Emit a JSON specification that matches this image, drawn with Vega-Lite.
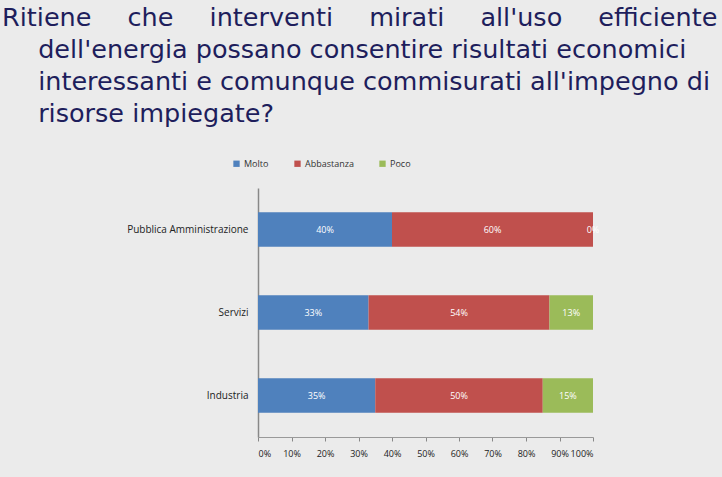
{
  "$schema": "https://vega.github.io/schema/vega-lite/v6.json",
  "width": 335,
  "height": 249,
  "autosize": {"type": "none"},
  "padding": {"left": 258, "top": 188, "right": 129, "bottom": 40},
  "background": "#ebebeb",
  "config": {"view": {"stroke": null}},
  "title": {
    "text": [
      "Ritiene\u2003\u2005\u2006che\u2003\u2005\u2006interventi\u2003\u2005\u2006mirati\u2003\u2005\u2006all'uso\u2003\u2005\u2006efficiente",
      "\u200b\u2003\u2005\u2006dell'energia possano consentire risultati economici",
      "\u200b\u2003\u2005\u2006interessanti e comunque commisurati all'impegno di",
      "\u200b\u2003\u2005\u2006risorse impiegate?"
    ],
    "anchor": "start",
    "frame": "group",
    "dx": -256,
    "font": "DejaVu Sans",
    "fontSize": 25.5,
    "fontWeight": "normal",
    "color": "#1e1e5c",
    "lineHeight": 32,
    "offset": 32
  },
  "data": {
    "values": [
      {"settore": "Pubblica Amministrazione", "risposta": "Molto", "k": 1, "quota": 0.40},
      {"settore": "Pubblica Amministrazione", "risposta": "Abbastanza", "k": 2, "quota": 0.60},
      {"settore": "Pubblica Amministrazione", "risposta": "Poco", "k": 3, "quota": 0.00},
      {"settore": "Servizi", "risposta": "Molto", "k": 1, "quota": 0.33},
      {"settore": "Servizi", "risposta": "Abbastanza", "k": 2, "quota": 0.54},
      {"settore": "Servizi", "risposta": "Poco", "k": 3, "quota": 0.13},
      {"settore": "Industria", "risposta": "Molto", "k": 1, "quota": 0.35},
      {"settore": "Industria", "risposta": "Abbastanza", "k": 2, "quota": 0.50},
      {"settore": "Industria", "risposta": "Poco", "k": 3, "quota": 0.15}
    ]
  },
  "encoding": {
    "y": {
      "field": "settore",
      "type": "nominal",
      "sort": null,
      "scale": {"paddingInner": 0.585, "paddingOuter": 0.2925},
      "axis": {
        "title": null,
        "ticks": false,
        "labelPadding": 10,
        "labelFontSize": 10,
        "labelFont": "Open Sans",
        "labelColor": "#222222",
        "domainColor": "#888888",
        "domainWidth": 1.5,
        "labelLimit": 200
      }
    },
    "x": {
      "field": "quota",
      "type": "quantitative",
      "stack": "zero",
      "scale": {"domain": [0, 1], "nice": false},
      "axis": {
        "title": null,
        "format": ".0%",
        "values": [0, 0.1, 0.2, 0.3, 0.4, 0.5, 0.6, 0.7, 0.8, 0.9, 1],
        "labelOverlap": false,
        "grid": false,
        "tickSize": 4,
        "tickColor": "#888888",
        "domainColor": "#999999",
        "labelPadding": 8,
        "labelFontSize": 9,
        "labelFont": "Open Sans",
        "labelColor": "#222222"
      }
    },
    "order": {"field": "k", "type": "quantitative"}
  },
  "layer": [
    {
      "mark": {"type": "bar"},
      "encoding": {
        "color": {
          "field": "risposta",
          "type": "nominal",
          "sort": ["Molto", "Abbastanza", "Poco"],
          "scale": {"domain": ["Molto", "Abbastanza", "Poco"], "range": ["#4f81bd", "#c0504d", "#9bbb59"]},
          "legend": {
            "title": null,
            "orient": "none",
            "legendX": -26,
            "legendY": -29,
            "direction": "horizontal",
            "symbolType": "square",
            "symbolSize": 40,
            "symbolStrokeWidth": 0,
            "labelFontSize": 9,
            "labelFont": "Open Sans",
            "labelColor": "#333333",
            "labelOffset": 3,
            "columnPadding": 24
          }
        }
      }
    },
    {
      "mark": {"type": "text", "color": "white", "fontSize": 9, "font": "Open Sans"},
      "encoding": {
        "x": {"field": "quota", "type": "quantitative", "stack": "zero", "bandPosition": 0.5},
        "text": {"field": "quota", "type": "quantitative", "format": ".0%"}
      }
    }
  ]
}
